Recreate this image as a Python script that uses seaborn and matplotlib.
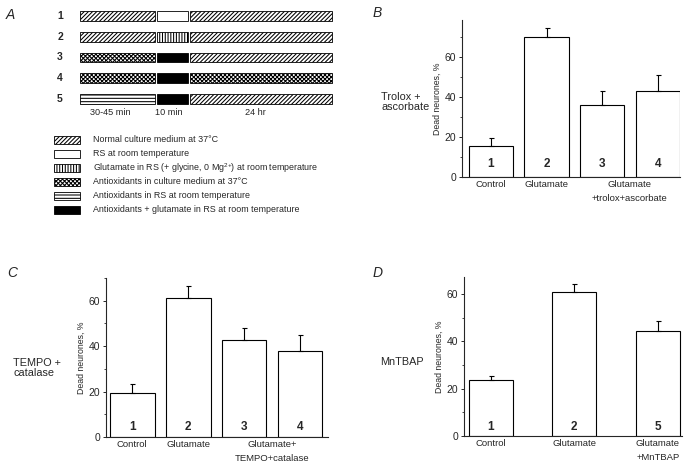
import numpy as np
import pandas as pd
import matplotlib
matplotlib.use('Agg')
import matplotlib.pyplot as plt
import seaborn as sns

# ---- data ----
# panel A: protocol schematic (segment bounds in arbitrary time units)
protocol_rows = ['1', '2', '3', '4', '5']
seg_left = [0, 77, 110]
seg_width = [75, 31, 142]
protocol = [
    ['medium', 'rs', 'medium'],
    ['medium', 'glu', 'medium'],
    ['aox_med', 'aox_glu', 'medium'],
    ['aox_med', 'aox_glu', 'aox_med'],
    ['aox_rs', 'aox_glu', 'medium'],
]
durations = ['30-45 min', '10 min', '24 hr']
legend_keys = ['medium', 'rs', 'glu', 'aox_med', 'aox_rs', 'aox_glu']
legend_texts = [
    'Normal culture medium at 37°C',
    'RS at room temperature',
    'Glutamate in RS (+ glycine, 0 Mg$^{2{+}}$) at room temperature',
    'Antioxidants in culture medium at 37°C',
    'Antioxidants in RS at room temperature',
    'Antioxidants + glutamate in RS at room temperature',
]

# panel B: trolox + ascorbate
b_groups = ['1', '2', '3', '4']
b_mean = [15.6, 70.2, 36.2, 43.0]
b_err = [3.7, 4.1, 6.8, 8.2]
b_labels = ['Control', 'Glutamate', 'Glutamate\n+trolox+ascorbate']

# panel C: TEMPO + catalase
c_groups = ['1', '2', '3', '4']
c_mean = [19.4, 61.1, 42.7, 37.8]
c_err = [3.9, 5.2, 5.1, 7.1]
c_labels = ['Control', 'Glutamate', 'Glutamate+\nTEMPO+catalase']

# panel D: MnTBAP
d_groups = ['1', '2', '5']
d_mean = [23.8, 60.8, 44.2]
d_err = [1.6, 3.4, 4.5]
d_labels = ['Control', 'Glutamate', 'Glutamate\n+MnTBAP']

styles = {
    'medium': ('white', '////////'),
    'rs': ('white', ''),
    'glu': ('white', '||||||'),
    'aox_med': ('white', 'xxxxxxxx'),
    'aox_rs': ('white', '-----'),
    'aox_glu': ('black', ''),
}

sns.set_style('ticks')
plt.rcParams['font.family'] = ['Liberation Sans', 'DejaVu Sans']
plt.rcParams['mathtext.fontset'] = 'custom'
plt.rcParams['mathtext.rm'] = 'Liberation Sans'
plt.rcParams['mathtext.default'] = 'regular'
plt.rcParams['hatch.linewidth'] = 0.75

W, H = 691, 467
fig = plt.figure(figsize=(W / 100, H / 100), dpi=100)


def px_axes(left, top, right, bottom):
    return fig.add_axes([left / W, 1 - bottom / H, (right - left) / W, (bottom - top) / H])


def px_text(x, y, s, **kw):
    fig.text(x / W, 1 - y / H, s, **kw)


# ---- panel A: schematic ----
axA = px_axes(80, 5.6, 334, 109.4)
for i, row in enumerate(protocol):
    for j, key in enumerate(row):
        fc, hatch = styles[key]
        axA.barh(i + 1, seg_width[j], left=seg_left[j], height=0.48,
                 color=fc, edgecolor='black', hatch=hatch, linewidth=0.6)
for i, r in enumerate(protocol_rows):
    axA.text(-20, i + 1, r, ha='center', va='center', fontsize=7.5, fontweight='bold')
for x, s in zip([30, 89, 175], durations):
    axA.text(x, 5.63, s, ha='center', va='center', fontsize=6.6)
axA.set_xlim(0, 254)
axA.set_ylim(5.5, 0.5)
axA.axis('off')

# ---- panel A: key ----
axK = px_axes(54, 133, 340, 217)
for i, (key, txt) in enumerate(zip(legend_keys, legend_texts)):
    fc, hatch = styles[key]
    axK.barh(i + 1, 26, left=0, height=0.57, color=fc, edgecolor='black',
             hatch=hatch, linewidth=0.6)
    axK.text(39, i + 1, txt, ha='left', va='center', fontsize=6.4)
axK.set_xlim(0, 286)
axK.set_ylim(6.5, 0.5)
axK.axis('off')


# ---- bar panels ----
def bar_panel(ax, groups, mean, err, labels, label_pos, width, xlim, ylim, num_y):
    df = pd.DataFrame({'group': groups, 'value': mean})
    sns.barplot(data=df, x='group', y='value', ax=ax, color='white', saturation=1,
                edgecolor='black', linewidth=0.8, width=width, errorbar=None)
    pos = np.arange(len(groups))
    ax.errorbar(pos, mean, yerr=[np.zeros(len(err)), err], fmt='none',
                ecolor='black', elinewidth=0.8, capsize=1.8, capthick=0.8)
    for p, g in zip(pos, groups):
        ax.text(p, num_y, g, ha='center', va='center', fontsize=8.5, fontweight='bold')
    ax.set_xticks(label_pos)
    ax.set_xticklabels(labels, fontsize=6.8, linespacing=1.7)
    ax.tick_params(axis='x', length=0, pad=2)
    ax.set_yticks([0, 20, 40, 60])
    ax.set_yticks([10, 30, 50, 70], minor=True)
    ax.tick_params(axis='y', which='major', direction='out', length=2.5, width=0.7,
                   labelsize=7.5, pad=1.5)
    ax.tick_params(axis='y', which='minor', direction='out', length=1.3, width=0.6)
    ax.set_xlim(*xlim)
    ax.set_ylim(*ylim)
    ax.set_xlabel('')
    ax.set_ylabel('Dead neurones, %', fontsize=6.3, labelpad=2)
    for s in ['top', 'right']:
        ax.spines[s].set_visible(False)
    for s in ['left', 'bottom']:
        ax.spines[s].set_linewidth(0.8)


axB = px_axes(462, 20, 680, 177)
bar_panel(axB, b_groups, b_mean, b_err, b_labels, [0, 1, 2.5], 0.8,
          (-0.52, 3.4), (0, 78.5), 6.7)

axC = px_axes(106, 278, 328, 437)
bar_panel(axC, c_groups, c_mean, c_err, c_labels, [0, 1, 2.5], 0.8,
          (-0.47, 3.5), (0, 70), 4.4)

axD = px_axes(464, 276.7, 682, 436)
bar_panel(axD, d_groups, d_mean, d_err, d_labels, [0, 1, 2], 0.53,
          (-0.32, 2.29), (0, 67.3), 3.9)

# panel letters and side labels
for x, y, s in [(10, 15, 'A'), (377, 13, 'B'), (12, 273, 'C'), (378, 273, 'D')]:
    px_text(x, y, s, ha='center', va='center', fontsize=10, style='italic')
px_text(381, 101.5, 'Trolox +\nascorbate', ha='left', va='center', fontsize=7.8, linespacing=1.0)
px_text(13, 367.5, 'TEMPO +\ncatalase', ha='left', va='center', fontsize=7.8, linespacing=1.0)
px_text(380, 362, 'MnTBAP', ha='left', va='center', fontsize=7.8)

fig.savefig('out.png', dpi=100)
